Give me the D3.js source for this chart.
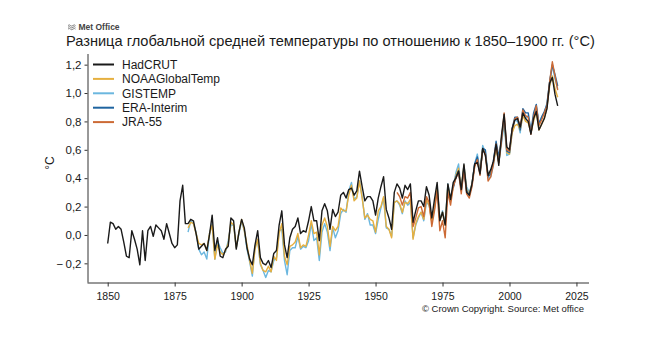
<!DOCTYPE html>
<html><head><meta charset="utf-8">
<script src="https://cdn.jsdelivr.net/npm/d3@7"></script>
<style>
body{margin:0;background:#fff}
svg{display:block}
text{font-family:"Liberation Sans",Arial,sans-serif;fill:#1a1a1a}
</style>
</head><body>
<svg id="c" width="649" height="355"></svg>
<script>
// ---- data (°C relative to 1850–1900) ----
const seriesNames = ["HadCRUT","NOAAGlobalTemp","GISTEMP","ERA-Interim","JRA-55"];
const seriesStart = [1850, 1880, 1880, 1979, 1958];

const hadcrut = [
-0.06,0.09,0.08,0.04,0.06,0.04,-0.05,-0.15,-0.16,0.03,
-0.03,-0.10,-0.21,0.03,-0.18,0.03,0.06,-0.01,0.07,0.05,
0.03,-0.03,0.08,0.01,-0.06,-0.09,-0.07,0.24,0.35,0.08,
0.08,0.11,0.10,0.01,-0.10,-0.08,-0.06,-0.11,0.00,0.14,
-0.11,-0.02,-0.15,-0.16,-0.10,-0.08,0.12,0.10,-0.10,0.02,
0.11,0.05,-0.09,-0.17,-0.21,-0.07,0.03,-0.16,-0.20,-0.21,
-0.18,-0.23,-0.13,-0.11,0.07,0.17,-0.07,-0.16,-0.02,0.04,
0.06,0.12,0.01,0.03,0.02,0.10,0.20,0.10,0.10,-0.04,
0.17,0.22,0.17,0.04,0.18,0.13,0.16,0.28,0.30,0.26,
0.32,0.33,0.28,0.31,0.45,0.34,0.24,0.27,0.27,0.24,
0.14,0.26,0.34,0.41,0.18,0.12,0.04,0.30,0.36,0.33,
0.26,0.35,0.32,0.36,0.09,0.17,0.24,0.24,0.20,0.34,
0.28,0.12,0.25,0.37,0.10,0.16,0.07,0.36,0.25,0.37,
0.40,0.45,0.32,0.50,0.30,0.28,0.36,0.50,0.51,0.43,
0.61,0.56,0.42,0.46,0.52,0.64,0.49,0.70,0.85,0.62,
0.60,0.75,0.81,0.82,0.76,0.86,0.82,0.80,0.71,0.82,
0.87,0.74,0.78,0.82,0.89,1.07,1.11,0.99,0.91];

const noaa = [
0.05,0.09,0.08,0.01,-0.06,-0.07,-0.06,-0.11,0.01,0.07,
-0.17,-0.07,-0.12,-0.14,-0.11,-0.06,0.09,0.07,-0.09,0.02,
0.11,0.03,-0.07,-0.18,-0.27,-0.10,-0.03,-0.20,-0.25,-0.26,
-0.22,-0.26,-0.15,-0.18,0.01,0.08,-0.15,-0.21,-0.08,-0.07,
-0.05,0.01,-0.09,-0.07,-0.08,0.00,0.10,0.01,0.02,-0.14,
0.07,0.12,0.06,-0.08,0.06,0.03,0.06,0.19,0.17,0.17,
0.28,0.35,0.24,0.26,0.38,0.26,0.12,0.14,0.11,0.10,
0.02,0.17,0.20,0.27,0.06,0.04,-0.02,0.23,0.24,0.22,
0.16,0.23,0.22,0.25,-0.03,0.08,0.13,0.16,0.11,0.25,
0.21,0.09,0.19,0.34,0.10,0.16,0.07,0.35,0.24,0.34,
0.42,0.47,0.33,0.49,0.32,0.29,0.36,0.49,0.54,0.45,
0.61,0.57,0.42,0.44,0.51,0.61,0.51,0.68,0.81,0.58,
0.57,0.72,0.77,0.78,0.74,0.84,0.80,0.79,0.72,0.80,
0.87,0.74,0.78,0.82,0.90,1.05,1.12,1.03,0.97];

const gistemp = [
0.02,0.10,0.08,0.02,-0.10,-0.14,-0.12,-0.17,0.01,0.08,
-0.17,-0.04,-0.09,-0.13,-0.12,-0.04,0.07,0.07,-0.09,0.01,
0.10,0.03,-0.10,-0.19,-0.29,-0.08,-0.04,-0.21,-0.25,-0.30,
-0.25,-0.26,-0.18,-0.16,0.03,0.04,-0.18,-0.28,-0.11,-0.09,
-0.09,-0.01,-0.10,-0.08,-0.09,-0.04,0.08,-0.04,-0.02,-0.18,
0.02,0.08,0.02,-0.11,0.05,-0.02,0.03,0.15,0.18,0.16,
0.31,0.37,0.25,0.27,0.38,0.27,0.11,0.15,0.07,0.07,
0.01,0.11,0.19,0.26,0.05,0.04,-0.01,0.23,0.24,0.21,
0.15,0.24,0.21,0.23,-0.02,0.07,0.12,0.16,0.10,0.23,
0.21,0.10,0.19,0.34,0.11,0.17,0.08,0.36,0.25,0.34,
0.44,0.50,0.32,0.49,0.34,0.30,0.36,0.50,0.57,0.45,
0.63,0.58,0.40,0.41,0.49,0.63,0.51,0.64,0.79,0.56,
0.57,0.72,0.81,0.80,0.72,0.86,0.82,0.84,0.72,0.83,
0.90,0.79,0.83,0.86,0.93,1.08,1.19,1.10,1.03];

const eraInterim = [
0.33,0.41,0.45,0.31,0.47,0.31,0.28,0.35,0.50,0.55,
0.43,0.61,0.60,0.41,0.43,0.52,0.66,0.55,0.67,0.83,
0.59,0.58,0.75,0.83,0.83,0.74,0.89,0.86,0.86,0.73,
0.86,0.92,0.78,0.83,0.87,0.92,1.08,1.20,1.13,1.05];

const jra55 = [
0.30,0.27,0.21,0.27,0.26,0.30,0.06,0.12,0.19,0.20,
0.13,0.27,0.23,0.06,0.17,0.31,0.03,0.10,-0.02,0.30,
0.21,0.34,0.40,0.44,0.29,0.46,0.29,0.26,0.34,0.48,
0.53,0.42,0.60,0.57,0.38,0.41,0.50,0.64,0.51,0.66,
0.86,0.60,0.59,0.74,0.82,0.83,0.76,0.88,0.84,0.83,
0.71,0.83,0.91,0.77,0.81,0.86,0.91,1.08,1.22,1.12,1.02];

const xTickLabels = [1850,1875,1900,1925,1950,1975,2000,2025];
const yTickValues = [-0.2,0,0.2,0.4,0.6,0.8,1.0,1.2];

const seriesValues = [hadcrut, noaa, gistemp, eraInterim, jra55];
const seriesColors = ["#1a1a1a","#e6b040","#6bb7df","#1f64a0","#cc6a35"];
const drawOrder = [2,1,3,4,0];

// ---- layout ----
const svg = d3.select("#c");
const axX0 = 87.5, axX1 = 589, axY0 = 282.5, axY1 = 54;

const y = d3.scaleLinear().domain([-0.335, 1.275]).range([axY0, axY1]);
const x = d3.scaleLinear().domain([1850, 2018]).range([107.7, 557.7]);

const loc = d3.formatLocale({decimal:",", thousands:" ", grouping:[3], currency:["",""], minus:"\u2212\u2009"});
const fmt = loc.format(".1f");

// logo
const logo = svg.append("g").attr("transform","translate(68,25.5)");
[0,1.8,3.6].forEach(d=>{
  logo.append("path").attr("d",`M0,${d} q1.25,-1.3 2.5,0 t2.5,0 t2.5,0`).attr("fill","none").attr("stroke","#666").attr("stroke-width",0.8);
});
svg.append("text").attr("x",78.5).attr("y",30.3).attr("font-size",8.5).attr("font-weight","bold")
  .attr("font-family","'Liberation Sans Narrow','Liberation Sans',sans-serif").style("fill","#444").text("Met Office");

// title
svg.append("text").attr("x",66).attr("y",45.5).attr("font-size",14.6).style("fill","#1a1a1a")
  .text("Разница глобальной средней температуры по отношению к 1850–1900 гг. (°C)");

// y axis
const gy = svg.append("g").attr("transform",`translate(${axX0},0)`)
  .call(d3.axisLeft(y).tickValues(yTickValues).tickSize(3).tickPadding(3).tickFormat(fmt));
gy.select(".domain").attr("d",`M0.5,${axY1}V${axY0}`).attr("stroke","#333");
gy.selectAll(".tick line").attr("stroke","#333");
gy.selectAll(".tick text").attr("font-size",11.5).attr("font-family","'Liberation Sans',Arial,sans-serif").style("fill","#1a1a1a");

// x axis
const gx = svg.append("g").attr("transform",`translate(0,${axY0})`)
  .call(d3.axisBottom(x).tickValues(xTickLabels).tickSize(4).tickPadding(6).tickFormat(d3.format("d")));
gx.select(".domain").attr("d",`M${axX0},0.5H${axX1}`).attr("stroke","#333");
gx.selectAll(".tick line").attr("stroke","#333");
gx.selectAll(".tick text").attr("font-size",10.5).attr("font-family","'Liberation Sans',Arial,sans-serif").style("fill","#1a1a1a");

// y label
svg.append("text").attr("transform","translate(54,163) rotate(-90)").attr("text-anchor","middle")
  .attr("font-size",12).text("°C");

// lines
const line = d3.line().x(d=>x(d[0])).y(d=>y(d[1]));
drawOrder.forEach(i=>{
  const pts = seriesValues[i].map((v,k)=>[seriesStart[i]+k, v]);
  svg.append("path").datum(pts).attr("d",line).attr("fill","none")
    .attr("stroke",seriesColors[i]).attr("stroke-width",1.4).attr("stroke-linejoin","round");
});

// legend
const lg = svg.append("g");
seriesNames.forEach((n,i)=>{
  const yy = 64.5 + i*14.4;
  lg.append("line").attr("x1",93).attr("x2",114).attr("y1",yy).attr("y2",yy)
    .attr("stroke",seriesColors[i]).attr("stroke-width",2);
  lg.append("text").attr("x",122).attr("y",yy+4.2).attr("font-size",12).text(n);
});

// source
svg.append("text").attr("x",584).attr("y",312).attr("text-anchor","end").attr("font-size",9.5)
  .text("© Crown Copyright. Source: Met office");
</script>
</body></html>
